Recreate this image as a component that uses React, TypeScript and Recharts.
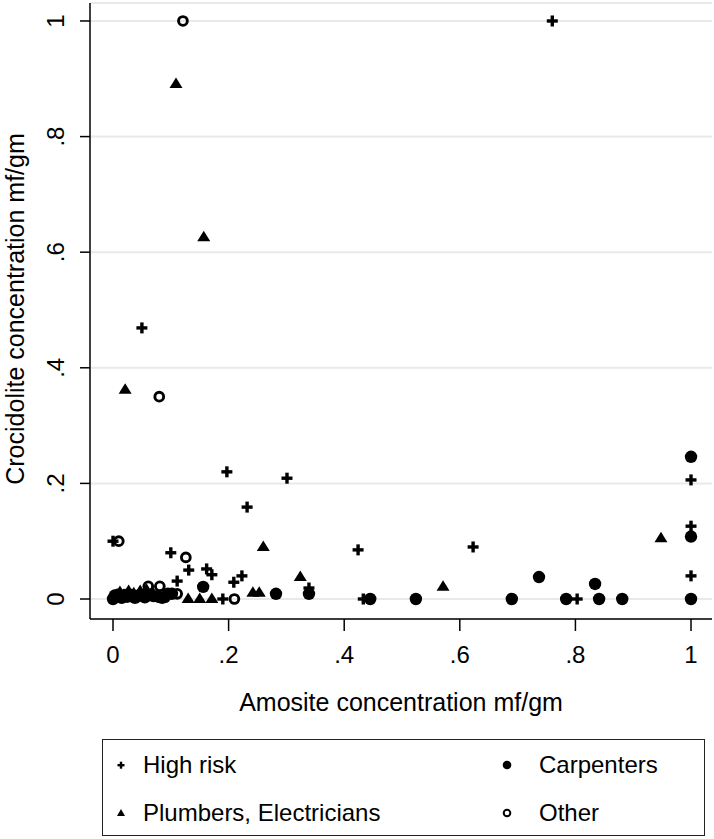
import { ScatterChart, Scatter, XAxis, YAxis, CartesianGrid, Legend, Label } from 'recharts';

// values (mf/gm)
const highRiskX = [0.76, 0.05, 0.197, 0.301, 0.232, 0.0, 0.424, 0.1, 0.131, 0.162, 0.171, 0.111, 0.209, 0.223, 0.339, 0.19, 0.433, 0.623, 0.803, 1.0, 1.0, 1.0, 0.005, 0.02];
const highRiskY = [1.0, 0.469, 0.22, 0.209, 0.159, 0.1, 0.085, 0.08, 0.05, 0.052, 0.042, 0.031, 0.029, 0.04, 0.019, 0.0, 0.0, 0.09, 0.0, 0.206, 0.126, 0.04, 0.005, 0.008];

const plumberX = [0.109, 0.157, 0.021, 0.26, 0.324, 0.242, 0.253, 0.13, 0.15, 0.171, 0.571, 0.948, 0.012, 0.027, 0.047, 0.005, 0.068, 0.036, 0.058];
const plumberY = [0.891, 0.626, 0.362, 0.09, 0.038, 0.011, 0.011, 0.0, 0.0, 0.0, 0.021, 0.105, 0.012, 0.014, 0.014, 0.005, 0.012, 0.01, 0.016];

const carpenterX = [1.0, 1.0, 1.0, 0.881, 0.841, 0.834, 0.784, 0.737, 0.69, 0.524, 0.445, 0.339, 0.282, 0.156, 0.102, 0.0, 0.003, 0.01, 0.015, 0.025, 0.032, 0.038, 0.046, 0.055, 0.063, 0.07, 0.078, 0.085, 0.095];
const carpenterY = [0.246, 0.108, 0.0, 0.0, 0.0, 0.026, 0.0, 0.038, 0.0, 0.0, 0.0, 0.009, 0.009, 0.021, 0.009, 0.0, 0.006, 0.008, 0.002, 0.004, 0.007, 0.002, 0.006, 0.003, 0.007, 0.005, 0.004, 0.002, 0.009];

const otherX = [0.121, 0.08, 0.01, 0.126, 0.061, 0.081, 0.111, 0.21, 0.04, 0.09];
const otherY = [1.0, 0.35, 0.1, 0.072, 0.022, 0.022, 0.009, 0.0, 0.006, 0.003];

const ticks = [0, 0.2, 0.4, 0.6, 0.8, 1];

const toPoints = (xs: number[], ys: number[]) => xs.map((x, i) => ({ x, y: ys[i] }));
const highRisk = toPoints(highRiskX, highRiskY);
const plumbers = toPoints(plumberX, plumberY);
const carpenters = toPoints(carpenterX, carpenterY);
const other = toPoints(otherX, otherY);

const FONT = '"Liberation Sans", Arial, Helvetica, sans-serif';
const fmt = (v: number) => (v === 0 ? '0' : v === 1 ? '1' : String(+v.toFixed(1)).replace(/^0/, ''));

// marker shapes, Stata-like
const PlusShape = (p: any) => (
  <g>
    <rect x={p.cx - 5.5} y={p.cy - 1.7} width={11} height={3.4} fill="#000" />
    <rect x={p.cx - 1.7} y={p.cy - 5.5} width={3.4} height={11} fill="#000" />
  </g>
);
const TriShape = (p: any) => (
  <path d={`M${p.cx},${p.cy - 6.5} L${p.cx + 6.5},${p.cy + 4} L${p.cx - 6.5},${p.cy + 4} Z`} fill="#000" />
);
const DotShape = (p: any) => <circle cx={p.cx} cy={p.cy} r={6.2} fill="#000" />;
const RingShape = (p: any) => <circle cx={p.cx} cy={p.cy} r={4.4} fill="none" stroke="#000" strokeWidth={2.9} />;

const XTick = ({ x, y, payload }: any) => (
  <text x={x} y={y + 21} textAnchor="middle" dominantBaseline="central" fontSize={24} fontFamily={FONT} fill="#000">
    {fmt(payload.value)}
  </text>
);
const YTick = ({ x, y, payload }: any) => (
  <text x={x - 22} y={y} textAnchor="middle" dominantBaseline="central" fontSize={24} fontFamily={FONT} fill="#000"
    transform={`rotate(-90 ${x - 22} ${y})`}>
    {fmt(payload.value)}
  </text>
);

const legendItems = [
  { name: 'High risk', icon: 'plus', col: 0, row: 0 },
  { name: 'Carpenters', icon: 'dot', col: 1, row: 0 },
  { name: 'Plumbers, Electricians', icon: 'tri', col: 0, row: 1 },
  { name: 'Other', icon: 'ring', col: 1, row: 1 },
];

const LegendIcon = ({ icon }: { icon: string }) => (
  <svg width={14} height={14} style={{ display: 'block' }}>
    {icon === 'plus' && (
      <g>
        <rect x={3.5} y={6} width={7} height={2.4} fill="#000" />
        <rect x={5.8} y={3.7} width={2.4} height={7} fill="#000" />
      </g>
    )}
    {icon === 'tri' && <path d="M7,3 L11,10 L3,10 Z" fill="#000" />}
    {icon === 'dot' && <circle cx={7} cy={7} r={4.3} fill="#000" />}
    {icon === 'ring' && <circle cx={7} cy={7} r={3.3} fill="none" stroke="#000" strokeWidth={2} />}
  </svg>
);

const renderLegend = () => (
  <div style={{ position: 'relative', width: 601, height: 95, border: '1.5px solid #222', background: '#fff', fontFamily: FONT }}>
    {legendItems.map((it) => (
      <div key={it.name} style={{
        position: 'absolute', left: it.col === 0 ? 11 : 397, top: it.row === 0 ? 11 : 59,
        display: 'flex', alignItems: 'center', height: 28, fontSize: 24, color: '#000', whiteSpace: 'nowrap',
      }}>
        <LegendIcon icon={it.icon} />
        <span style={{ marginLeft: it.col === 0 ? 15 : 25 }}>{it.name}</span>
      </div>
    ))}
  </div>
);

export default function App() {
  return (
    <div style={{ position: 'absolute', left: 0, top: 0, width: 714, height: 839, background: '#fff' }}>
      <ScatterChart width={714} height={839} margin={{ top: 3, right: 2, bottom: 140, left: 0 }}>
        <CartesianGrid vertical={false} stroke="#e9e9e9" strokeWidth={2} />
        <XAxis type="number" dataKey="x" domain={[-0.0398, 1.0363]} allowDataOverflow ticks={ticks} interval={0}
          height={80} tickSize={12} tickMargin={2} tick={<XTick />} axisLine={{ stroke: '#000', strokeWidth: 1.5 }}
          tickLine={{ stroke: '#000', strokeWidth: 1.5 }}>
          <Label content={({ viewBox }: any) => (
            <text x={viewBox.x + viewBox.width / 2} y={viewBox.y + 83} textAnchor="middle" dominantBaseline="central"
              fontSize={25} fontFamily={FONT} fill="#000">Amosite concentration mf/gm</text>
          )} />
        </XAxis>
        <YAxis type="number" dataKey="y" domain={[-0.0346, 1.0311]} allowDataOverflow ticks={ticks} interval={0}
          width={90} tickSize={10} tickMargin={2} tick={<YTick />} axisLine={{ stroke: '#000', strokeWidth: 1.5 }}
          tickLine={{ stroke: '#000', strokeWidth: 1.5 }}>
          <Label content={({ viewBox }: any) => {
            const cx = 15;
            const cy = viewBox.y + viewBox.height / 2 - 2;
            return (
              <text x={cx} y={cy} textAnchor="middle" dominantBaseline="central" fontSize={25} fontFamily={FONT}
                fill="#000" transform={`rotate(-90 ${cx} ${cy})`}>Crocidolite concentration mf/gm</text>
            );
          }} />
        </YAxis>
        <Scatter name="Carpenters" data={carpenters} shape={DotShape} isAnimationActive={false} />
        <Scatter name="Plumbers, Electricians" data={plumbers} shape={TriShape} isAnimationActive={false} />
        <Scatter name="Other" data={other} shape={RingShape} isAnimationActive={false} />
        <Scatter name="High risk" data={highRisk} shape={PlusShape} isAnimationActive={false} />
        <Legend content={renderLegend} layout="horizontal" verticalAlign="middle" align="center"
          wrapperStyle={{ position: 'absolute', left: 102, top: 739, width: 604, height: 98 }} />
      </ScatterChart>
    </div>
  );
}
